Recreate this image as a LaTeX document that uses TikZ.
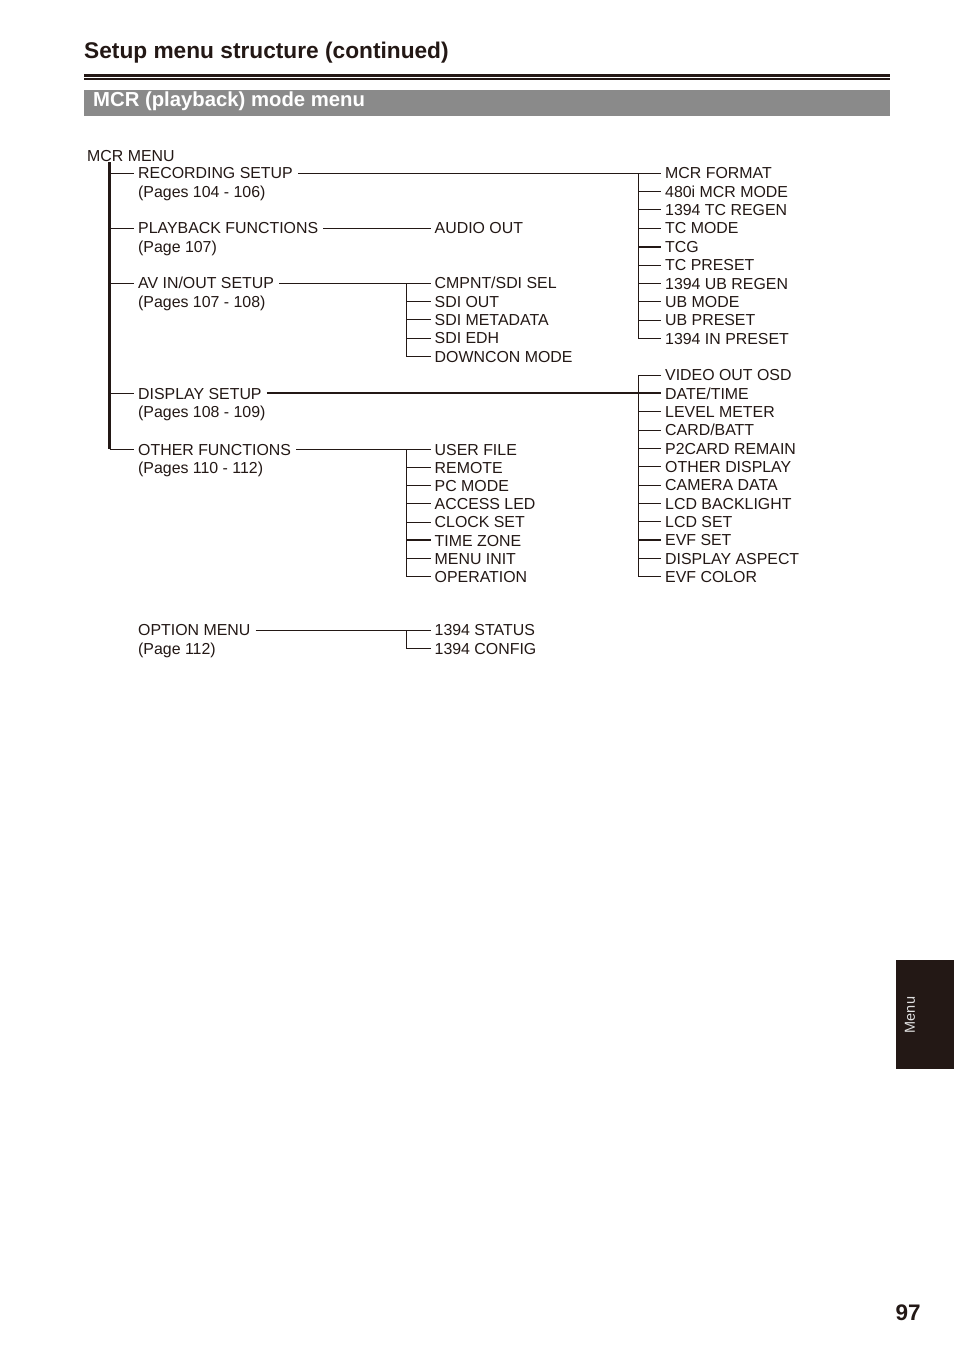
\documentclass[tikz,border=0pt]{standalone}
\usepackage{fontspec}
\setmainfont{Liberation Sans}
\definecolor{ink}{RGB}{35,24,21}
\definecolor{bargray}{RGB}{138,138,138}
\begin{document}
\begin{tikzpicture}[x=1pt,y=-1pt,
  lbl/.style={anchor=west,inner sep=0pt,text height=11.4pt,text depth=0pt,
              font=\fontsize{15.9}{18}\selectfont,text=ink},
  thinln/.style={draw=ink,line width=0.9pt},
  thickln/.style={draw=ink,line width=1.8pt}]
\fill[white] (0,0) rectangle (954,1354);
\useasboundingbox (0,0) rectangle (954,1354);

% ---------- header ----------
\node[anchor=base west,inner sep=0pt,font=\fontsize{22.7}{26}\selectfont\bfseries,text=ink]
  (title) at (84,58.5) {Setup menu structure (continued)};
\draw[ink,line width=3pt] (84,75) -- (890,75);
\draw[ink,line width=1.2pt] (84,79) -- (890,79);
\fill[bargray] (84,90) rectangle (890,115.7);
\node[anchor=base west,inner sep=0pt,font=\fontsize{20.3}{24}\selectfont\bfseries,text=white]
  (bar) at (93,106.5) {MCR (playback) mode menu};

% ---------- left column ----------
\node[lbl] (root) at (87,156) {MCR MENU};
\node[lbl] (rs)  at (138,173)    {RECORDING SETUP};
\node[lbl] (rsp) at (138,191.5)  {(Pages 104 - 106)};
\node[lbl] (pf)  at (138,228)    {PLAYBACK FUNCTIONS};
\node[lbl] (pfp) at (138,246.5)  {(Page 107)};
\node[lbl] (av)  at (138,283)    {AV IN/OUT SETUP};
\node[lbl] (avp) at (138,301.5)  {(Pages 107 - 108)};
\node[lbl] (ds)  at (138,393.35) {DISPLAY SETUP};
\node[lbl] (dsp) at (138,412)    {(Pages 108 - 109)};
\node[lbl] (of)  at (138,449.3)  {OTHER FUNCTIONS};
\node[lbl] (ofp) at (138,467.5)  {(Pages 110 - 112)};
\node[lbl] (om)  at (138,630)    {OPTION MENU};
\node[lbl] (omp) at (138,648.5)  {(Page 112)};

% ---------- middle column ----------
\node[lbl] (ao) at (434.5,228) {AUDIO OUT};
\foreach \t [count=\i from 0] in {CMPNT/SDI SEL,SDI OUT,SDI METADATA,SDI EDH,DOWNCON MODE}
  \node[lbl] (avo\i) at (434.5,283+18.4*\i) {\t};
\foreach \t [count=\i from 0] in {USER FILE,REMOTE,PC MODE,ACCESS LED,CLOCK SET,TIME ZONE,MENU INIT,OPERATION}
  \node[lbl] (oth\i) at (434.5,449.3+18.2*\i) {\t};
\node[lbl] (opt0) at (434.5,630)   {1394 STATUS};
\node[lbl] (opt1) at (434.5,648.5) {1394 CONFIG};

% ---------- right column ----------
\foreach \t [count=\i from 0] in {MCR FORMAT,480i MCR MODE,1394 TC REGEN,TC MODE,TCG,TC PRESET,1394 UB REGEN,UB MODE,UB PRESET,1394 IN PRESET}
  \node[lbl] (rec\i) at (665,173+18.4*\i) {\t};
\foreach \t [count=\i from 0] in {VIDEO OUT OSD,DATE/TIME,LEVEL METER,CARD/BATT,P2CARD REMAIN,OTHER DISPLAY,CAMERA DATA,LCD BACKLIGHT,LCD SET,EVF SET,DISPLAY ASPECT,EVF COLOR}
  \node[lbl] (disp\i) at (665,375+18.35*\i) {\t};

% ---------- junction coordinates ----------
\coordinate (mtop) at (109.5,162);
\coordinate (jmid) at (406.5,0);
\coordinate (jright) at (638.5,0);

% ---------- main trunk ----------
\draw[draw=ink,line width=2.1pt] (mtop) -- ([yshift=0.45pt]mtop |- of.west);
\foreach \n in {rs,pf,av,ds,of}
  \draw[thinln] (mtop |- \n.west) -- ([xshift=-4pt]\n.west);

% ---------- recording setup ----------
\draw[thinln] ([xshift=5pt]rs.east) -- ([xshift=-4pt]rec0.west);
\draw[thinln] (jright |- rec0.west) -- (jright |- rec9.west) -- ([xshift=-4pt]rec9.west);
\foreach \i in {1,2,3,5,6,7,8}
  \draw[thinln] (jright |- rec\i.west) -- ([xshift=-4pt]rec\i.west);
\draw[thickln] (jright |- rec4.west) -- ([xshift=-4pt]rec4.west);

% ---------- playback functions ----------
\draw[thinln] ([xshift=5pt]pf.east) -- ([xshift=-4pt]ao.west);

% ---------- av in/out ----------
\draw[thinln] ([xshift=5pt]av.east) -- ([xshift=-4pt]avo0.west);
\draw[thinln] (jmid |- avo0.west) -- (jmid |- avo4.west) -- ([xshift=-4pt]avo4.west);
\foreach \i in {1,2,3}
  \draw[thinln] (jmid |- avo\i.west) -- ([xshift=-4pt]avo\i.west);

% ---------- display setup ----------
\draw[thickln] ([xshift=5pt]ds.east) -- ([xshift=-4pt]disp1.west);
\draw[thinln] ([xshift=-4pt]disp0.west) -- (jright |- disp0.west) -- (jright |- disp11.west) -- ([xshift=-4pt]disp11.west);
\foreach \i in {2,3,4,5,6,7,8,10}
  \draw[thinln] (jright |- disp\i.west) -- ([xshift=-4pt]disp\i.west);
\draw[thickln] (jright |- disp9.west) -- ([xshift=-4pt]disp9.west);

% ---------- other functions ----------
\draw[thinln] ([xshift=5pt]of.east) -- ([xshift=-4pt]oth0.west);
\draw[thinln] (jmid |- oth0.west) -- (jmid |- oth7.west) -- ([xshift=-4pt]oth7.west);
\foreach \i in {1,2,3,4,6}
  \draw[thinln] (jmid |- oth\i.west) -- ([xshift=-4pt]oth\i.west);
\draw[thickln] (jmid |- oth5.west) -- ([xshift=-4pt]oth5.west);

% ---------- option menu ----------
\draw[thinln] ([xshift=5pt]om.east) -- ([xshift=-4pt]opt0.west);
\draw[thinln] (jmid |- opt0.west) -- (jmid |- opt1.west) -- ([xshift=-4pt]opt1.west);

% ---------- side tab and page number ----------
\fill[ink] (896,960) rectangle (954,1069);
\node[rotate=90,inner sep=0pt,text=white!88!black,font=\fontsize{14.5}{16}\selectfont]
  (tab) at (910,1015) {Menu};
\node[anchor=base west,inner sep=0pt,font=\fontsize{22.5}{26}\selectfont\bfseries,text=ink]
  (pg) at (895.5,1320) {97};
\end{tikzpicture}
\end{document}
